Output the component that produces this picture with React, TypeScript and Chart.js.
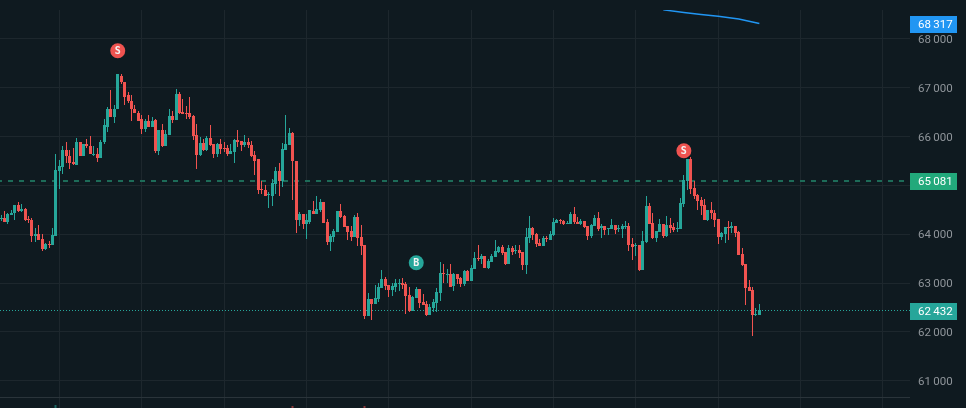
import React, { useEffect, useRef } from "react";
import { Chart, registerables } from "chart.js";

Chart.register(...registerables);

const opens = [
64322,64343,64261,64404,64432,64609,64486,64527,64315,64295,
63960,64015,63912,63708,63810,63790,63974,65306,65388,65736,
65613,65490,65429,65900,65613,65839,65818,65634,65654,65572,
65880,66207,66556,66412,66556,67252,67129,66843,66740,66576,
66494,66351,66166,66310,66207,66331,65696,66146,65798,66024,
66413,66331,66864,66495,66488,66474,66413,66024,65614,65860,
65716,65962,65839,65634,65839,65757,65757,65634,65675,65921,
65901,65819,65880,65819,65614,65532,64917,64897,64801,64794,
65020,65286,65081,65716,65819,66065,65511,64282,64405,64220,
64241,64478,64416,64498,64662,64252,63843,63945,64047,64478,
64375,64170,64068,63945,64355,63945,63781,62326,62675,62572,
62675,62900,63084,62961,62859,62920,62982,63002,62982,62757,
62429,62695,62879,62613,62572,62347,62490,62593,62798,63207,
63173,63187,62941,63187,63105,62982,63248,63043,63289,63515,
63494,63556,63310,63433,63535,63638,63740,63638,63392,63719,
63665,63678,63638,63371,63924,64129,64006,63822,63760,63924,
63883,63986,64232,64293,64273,64218,64211,64416,64252,64211,
64273,64170,63962,64167,64331,64126,64167,64105,64105,64187,
64112,64105,64153,64167,63798,63764,63778,63265,63839,64577,
64228,63921,64044,64208,63962,64187,64146,64112,64105,64618,
65089,65540,64945,64802,64700,64597,64290,64495,64433,64310,
63941,64003,64146,64126,64167,64044,63593,63388,62917,62855,
62343,62343];

const highs = [
64404,64479,64438,64507,64609,64664,64630,64548,64384,64343,
64138,64193,64008,63824,63858,64138,65654,65531,65798,65880,
65716,65777,65982,65900,65839,65961,66023,65798,65777,65941,
66371,66597,66945,66658,67273,67293,67129,66904,66863,66658,
66535,66453,66351,66453,66392,66351,66146,66249,66126,66556,
66515,66966,66905,66761,66618,66802,66433,66249,65983,65942,
66003,66228,65839,65860,65942,65880,65819,65839,65942,66126,
65901,66024,65962,65901,65696,65532,65081,64999,64856,65122,
65368,65450,65860,66433,66167,66085,65511,64466,64405,64425,
64507,64683,64785,64724,64662,64314,64006,64109,64478,64621,
64396,64170,64170,64396,64437,64191,63781,62798,62675,62961,
63002,63269,63125,62961,63002,63084,63084,63105,63023,62920,
62736,62920,62879,62777,62634,62572,62675,62900,63433,63392,
63289,63392,63207,63187,63125,63269,63269,63371,63638,63781,
63597,63556,63494,63597,63883,63760,63781,63638,63781,63760,
63781,63781,63638,64129,64375,64150,64027,63904,63965,63965,
64068,64334,64314,64314,64293,64273,64457,64560,64355,64314,
64273,64170,64208,64392,64454,64208,64167,64126,64310,64187,
64187,64208,64269,64228,63921,63819,63778,64064,64782,64638,
64433,64064,64310,64208,64372,64331,64228,64249,64741,65212,
65540,65581,65089,64823,64761,64720,64495,64659,64495,64310,
64044,64146,64269,64249,64167,64064,63716,63388,63060,62917,
62487,62569];

const lows = [
64268,64247,64220,64391,64302,64452,64452,64281,64233,63851,
63851,63892,63667,63673,63728,63790,63974,64937,65244,65463,
65347,65429,65429,65613,65593,65757,65634,65613,65490,65572,
65839,66105,66392,66289,66556,67068,66658,66699,66330,66474,
66310,66064,66105,66207,66207,65655,65614,65778,65798,66024,
66269,66331,66454,66454,66351,66351,65921,65327,65593,65696,
65696,65798,65552,65573,65634,65675,65593,65634,65470,65778,
65696,65778,65757,65573,65224,64835,64835,64774,64528,64589,
64815,64774,64958,65716,65819,64692,64016,64179,64118,63893,
64220,64416,64416,64457,64232,63781,63658,63843,64047,64334,
64150,63883,63863,63945,63761,63576,62265,62326,62244,62572,
62613,62900,62859,62716,62736,62818,62839,62879,62367,62408,
62429,62695,62490,62552,62326,62347,62408,62408,62634,63002,
63002,62920,62838,62982,62920,62941,63043,63043,63289,63453,
63392,63310,63289,63433,63535,63617,63576,63371,63392,63576,
63597,63515,63269,63187,63822,63883,63740,63760,63760,63842,
63883,63965,64232,64211,64191,64211,64211,64211,64211,64191,
64129,63883,63921,64167,64064,63921,63982,63982,64105,64003,
64044,63921,64105,63655,63470,63552,63245,63265,63819,64208,
63900,63839,64044,63921,63941,64023,64044,64044,64105,64556,
64904,64823,64720,64495,64392,64290,64269,64310,64146,63798,
63880,63819,63880,64023,63941,63573,63347,62548,62835,61913,
62323,62343];

const closes = [
64343,64261,64418,64445,64609,64479,64527,64302,64295,63960,
64008,63892,63708,63810,63796,63994,65326,65408,65736,65593,
65470,65449,65900,65613,65839,65798,65634,65654,65572,65900,
66228,66556,66412,66576,67273,67109,66822,66720,66556,66474,
66330,66166,66310,66207,66330,65696,66146,65798,66044,66413,
66331,66864,66474,66468,66454,66392,66003,65614,65860,65716,
65962,65819,65634,65839,65737,65744,65634,65696,65921,65880,
65819,65880,65819,65593,65511,64897,64897,64774,64815,65040,
65286,65081,65737,65839,66065,65491,64282,64405,64220,64282,
64487,64416,64519,64662,64232,63843,63965,64068,64478,64355,
64150,64047,63945,64355,63924,63761,62326,62675,62572,62695,
62920,63084,62941,62859,62941,63002,62996,62961,62736,62429,
62716,62879,62593,62552,62347,62511,62613,62818,63207,63194,
63187,62927,63187,63084,62982,63248,63043,63310,63515,63494,
63556,63310,63453,63556,63658,63740,63617,63392,63719,63638,
63678,63617,63371,63945,64129,63986,63801,63760,63924,63904,
64006,64252,64293,64273,64211,64232,64416,64252,64211,64273,
64150,63965,64187,64331,64105,64167,64085,64126,64187,64085,
64126,64167,64167,63778,63737,63778,63265,63860,64577,64208,
63921,64064,64208,63962,64187,64126,64085,64126,64638,65109,
65540,64925,64782,64679,64577,64290,64495,64433,64290,63941,
64023,64146,64126,64167,64023,63573,63368,62896,62835,62343,
62364,62446];

const maIndex = [193, 199, 204, 209, 215, 221];
const maValues = [68598, 68542, 68501, 68467, 68411, 68317];

const volumeIndex = [16, 85, 106];
const volumeValues = [380, 250, 250];
const volumeUp = [true, false, false];

const markerIndex = [34, 121, 199];
const markerPrices = [67760, 63417, 65712];
const markerLabels = ["S", "B", "S"];

const priceTicks = [68000, 67000, 66000, 65000, 64000, 63000, 62000, 61000];
const paneSeparator = 60646;
const timeTicks = [17, 41, 65, 89, 113, 137, 161, 185, 209, 233, 257];

const lastPrice = 62432;
const linePrice = 65081;
const maLast = 68317;

const X_MIN = -0.3206;
const X_MAX = 264.91;
const Y_MAX = 68594;
const Y_MIN = 60441;

const BG = "#0f1a20";
const GRID = "#1d272d";
const UP = "#26a69a";
const DOWN = "#f05350";
const FONT = "Roboto";
const FONT_SIZE = 11.5;

const fmt = (v: number) => {
  const s = String(Math.round(v));
  return s.slice(0, -3) + "\u2009" + s.slice(-3);
};

const snapPlugin = {
  id: "snap",
  beforeDatasetsDraw(chart: any) {
    chart.data.datasets.forEach((ds: any, i: number) => {
      const meta = chart.getDatasetMeta(i);
      if (meta.type === "bar") {
        meta.data.forEach((el: any) => {
          el.x = Math.floor(el.x) + 0.5;
          let a = Math.round(el.y);
          let b = Math.round(el.base);
          if (a === b) b = a + 1;
          el.y = a;
          el.base = b;
        });
      } else if (ds.snapLine) {
        meta.data.forEach((el: any) => {
          el.y = ds.borderWidth === 2 ? Math.floor(el.y) : Math.floor(el.y) + 0.5;
        });
      }
    });
  },
};

const overlayPlugin = {
  id: "overlay",
  afterDatasetsDraw(chart: any) {
    const ctx = chart.ctx;
    chart.data.datasets.forEach((ds: any, i: number) => {
      if (!ds.markerText) return;
      chart.getDatasetMeta(i).data.forEach((el: any, k: number) => {
        ctx.save();
        ctx.fillStyle = "#f4f4f4";
        ctx.font = "bold 10px 'DejaVu Sans Mono'";
        ctx.textAlign = "center";
        ctx.textBaseline = "middle";
        ctx.fillText(ds.markerText[k], el.x, el.y + 0.5);
        ctx.restore();
      });
    });
  },
  afterDraw(chart: any) {
    const ctx = chart.ctx;
    const y = chart.scales.y;
    const badges = [
      { v: maLast, c: "#2196f3" },
      { v: linePrice, c: "#22a97b" },
      { v: lastPrice, c: UP },
    ];
    ctx.save();
    ctx.font = `${FONT_SIZE}px ${FONT}`;
    ctx.textAlign = "left";
    ctx.textBaseline = "middle";
    badges.forEach((b) => {
      const cy = Math.round(y.getPixelForValue(b.v));
      ctx.fillStyle = b.c;
      ctx.fillRect(910, cy - 8, 47, 17);
      ctx.fillStyle = "#ffffff";
      ctx.fillText(fmt(b.v), 918, cy + 1);
    });
    ctx.restore();
  },
};

export default function App() {
  const ref = useRef<HTMLCanvasElement | null>(null);

  useEffect(() => {
    document.body.style.margin = "0";
    const isUp = closes.map((c, i) => c >= opens[i]);
    const colors = isUp.map((u) => (u ? UP : DOWN));
    const chart = new Chart(ref.current as HTMLCanvasElement, {
      type: "bar",
      data: {
        datasets: [
          {
            type: "bar",
            label: "wick",
            data: highs.map((h, i) => ({ x: i, y: [lows[i], h] })),
            backgroundColor: colors,
            barThickness: 1,
            grouped: false,
            inflateAmount: 0,
            borderWidth: 0,
            order: 5,
          },
          {
            type: "bar",
            label: "body",
            data: opens.map((o, i) => ({ x: i, y: [o, closes[i]] })),
            backgroundColor: colors,
            barThickness: 3,
            grouped: false,
            inflateAmount: 0,
            borderWidth: 0,
            order: 4,
          },
          {
            type: "bar",
            label: "volume",
            yAxisID: "v",
            data: volumeIndex.map((x, i) => ({ x, y: volumeValues[i] })),
            backgroundColor: volumeUp.map((u) => (u ? "rgba(38,166,154,0.55)" : "rgba(240,83,80,0.55)")),
            barThickness: 2,
            grouped: false,
            inflateAmount: 0,
            borderWidth: 0,
            order: 6,
          },
          {
            type: "line",
            label: "ma",
            data: maIndex.map((x, i) => ({ x, y: maValues[i] })),
            borderColor: "#2196f3",
            borderWidth: 1.5,
            pointRadius: 0,
            tension: 0,
            order: 3,
          },
          {
            type: "line",
            label: "position",
            snapLine: true,
            data: [{ x: X_MIN, y: linePrice }, { x: X_MAX, y: linePrice }],
            borderColor: "#1d6b58",
            borderWidth: 2,
            borderDash: [5, 6],
            borderDashOffset: 3,
            pointRadius: 0,
            order: 7,
          },
          {
            type: "line",
            label: "last",
            snapLine: true,
            data: [{ x: X_MIN, y: lastPrice }, { x: X_MAX, y: lastPrice }],
            borderColor: UP,
            borderWidth: 1,
            borderDash: [1, 2],
            pointRadius: 0,
            order: 7,
          },
          {
            type: "line",
            label: "signals",
            markerText: markerLabels,
            data: markerIndex.map((x, i) => ({ x, y: markerPrices[i] })),
            showLine: false,
            pointRadius: 7.5,
            pointBorderWidth: 0,
            pointBackgroundColor: markerLabels.map((l) => (l === "S" ? "#ef5350" : UP)),
            order: 1,
          },
        ] as any,
      },
      options: {
        responsive: false,
        animation: false,
        layout: { autoPadding: false, padding: { top: 10, left: 0, right: 0, bottom: 0 } },
        plugins: { legend: { display: false }, tooltip: { enabled: false } },
        scales: {
          x: {
            type: "linear",
            min: X_MIN,
            max: X_MAX,
            offset: false,
            border: { display: false },
            grid: { color: GRID, drawTicks: false, lineWidth: 1, offset: false },
            ticks: { display: false },
            afterBuildTicks(scale: any) {
              scale.ticks = timeTicks.map((value) => ({ value }));
            },
            afterFit(scale: any) {
              scale.height = 0;
            },
          },
          y: {
            type: "linear",
            position: "right",
            min: Y_MIN,
            max: Y_MAX,
            border: { display: false },
            grid: {
              drawTicks: false,
              lineWidth: 1,
              color: (c: any) => (c.tick && c.tick.value === paneSeparator ? "#2a343a" : GRID),
            },
            ticks: {
              autoSkip: false,
              padding: 8,
              labelOffset: 1,
              color: "#8f959a",
              font: { family: FONT, size: FONT_SIZE },
              callback: (v: any) => (priceTicks.includes(v) ? fmt(v) : ""),
            },
            afterBuildTicks(scale: any) {
              scale.ticks = [paneSeparator, ...priceTicks.slice().reverse()].map((value) => ({ value }));
            },
            afterFit(scale: any) {
              scale.width = 56;
              scale.paddingTop = 0;
              scale.paddingBottom = 0;
            },
          },
          v: {
            type: "linear",
            display: false,
            min: 0,
            max: 50000,
          },
        },
      } as any,
      plugins: [snapPlugin, overlayPlugin],
    } as any);
    return () => chart.destroy();
  }, []);

  return (
    <div style={{ position: "fixed", left: 0, top: 0, width: 966, height: 408, background: BG }}>
      <canvas ref={ref} width={966} height={408} style={{ display: "block" }} />
    </div>
  );
}
